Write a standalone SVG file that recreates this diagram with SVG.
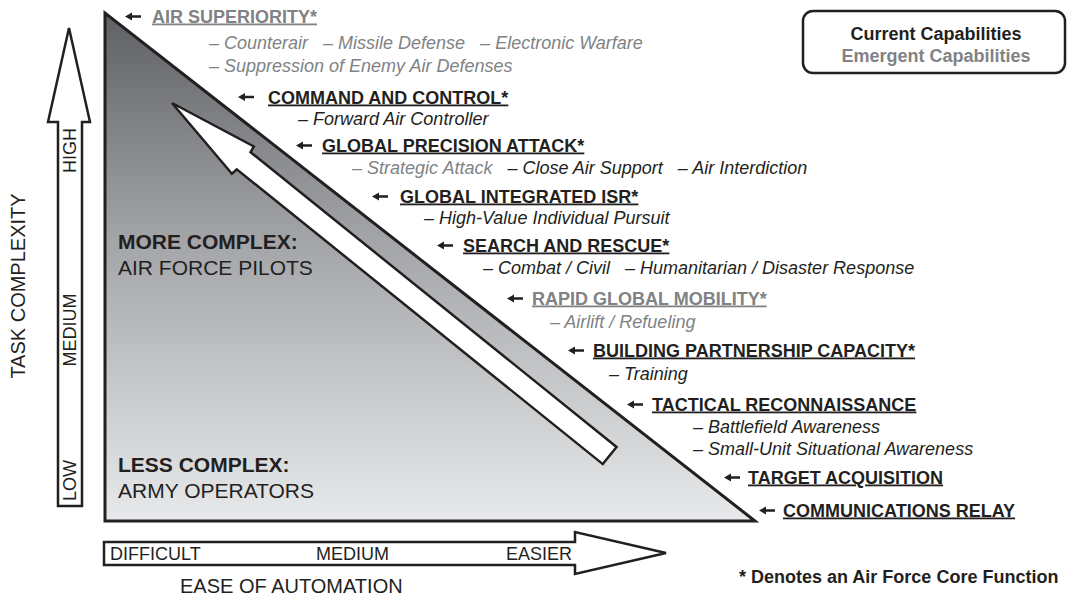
<svg xmlns="http://www.w3.org/2000/svg" width="1069" height="599" viewBox="0 0 1069 599">
<defs>
<linearGradient id="tg" x1="0" y1="0" x2="0" y2="1">
<stop offset="0" stop-color="#5f6063"/>
<stop offset="0.45" stop-color="#a3a5a8"/>
<stop offset="1" stop-color="#e8e9ea"/>
</linearGradient>
<path id="la" d="M0,0 L7,-4 L7,-1.3 L16,-1.3 L16,1.3 L7,1.3 L7,4 Z"/>
<style>
text{font-family:"Liberation Sans",Arial,Helvetica,sans-serif;fill:#231f20}
.h{font-size:18px;font-weight:bold;text-decoration:underline}
.s{font-size:18px;font-style:italic;white-space:pre}
.g{fill:#808285}
.big{font-size:21px}
.ax{font-size:18px}
.ttl{font-size:20px}
.sh{fill:#fff;stroke:#231f20;stroke-width:2.5;stroke-linejoin:miter}
</style>
</defs>
<rect width="1069" height="599" fill="#fff"/>

<g id="triangle">
<polygon points="105,13 105,521 755,521" fill="url(#tg)" stroke="#231f20" stroke-width="3" stroke-linejoin="miter"/>
</g>

<g id="connectors">
<polygon class="sh" transform="translate(172,103) rotate(38.85)" points="0,0 91,-17.5 92,-11 562,-11 562,11 92,11 91,17.5"/>
</g>

<g id="zone-more">
<text class="big" x="118" y="249" font-weight="bold">MORE COMPLEX:</text>
<text class="big" x="118" y="275">AIR FORCE PILOTS</text>
</g>
<g id="zone-less">
<text class="big" x="118" y="472" font-weight="bold">LESS COMPLEX:</text>
<text class="big" x="118" y="498">ARMY OPERATORS</text>
</g>

<g id="axis-y">
<polygon class="sh" points="58,506 58,122 48,122 69,28 90,122 82,122 82,506"/>
<text class="ax" transform="translate(76,501) rotate(-90)">LOW</text>
<text class="ax" transform="translate(76,330) rotate(-90)" text-anchor="middle">MEDIUM</text>
<text class="ax" transform="translate(76,128) rotate(-90)" text-anchor="end">HIGH</text>
<text class="ttl" transform="translate(25,286) rotate(-90)" text-anchor="middle">TASK COMPLEXITY</text>
</g>

<g id="axis-x">
<polygon class="sh" points="104,542 575,542 575,532 666,553 575,574 575,565 104,565"/>
<text class="ax" x="110" y="560">DIFFICULT</text>
<text class="ax" x="316" y="560">MEDIUM</text>
<text class="ax" x="506" y="560">EASIER</text>
<text class="ttl" x="180" y="593">EASE OF AUTOMATION</text>
</g>

<g id="legend">
<rect x="803" y="11" width="262" height="62" rx="10" fill="#fff" stroke="#231f20" stroke-width="2.5"/>
<text x="936" y="40" text-anchor="middle" font-size="18" font-weight="bold">Current Capabilities</text>
<text x="936" y="61.5" text-anchor="middle" font-size="18" font-weight="bold" class="g">Emergent Capabilities</text>
</g>

<g id="note">
<text x="739" y="583" font-size="18" font-weight="bold">* Denotes an Air Force Core Function</text>
</g>

<g id="air-superiority">
<use href="#la" x="125" y="16.5" fill="#231f20"/>
<text class="h g" x="152" y="22.5">AIR SUPERIORITY*</text>
<text class="s g" x="209" y="49">– Counterair   – Missile Defense   – Electronic Warfare</text>
<text class="s g" x="209" y="71.5">– Suppression of Enemy Air Defenses</text>
</g>
<g id="command-control">
<use href="#la" x="238" y="97" fill="#231f20"/>
<text class="h" x="268" y="103.5">COMMAND AND CONTROL*</text>
<text class="s" x="298" y="125">– Forward Air Controller</text>
</g>
<g id="global-precision-attack">
<use href="#la" x="296" y="145.5" fill="#231f20"/>
<text class="h" x="322" y="151.5">GLOBAL PRECISION ATTACK*</text>
<text class="s" x="352" y="173.5"><tspan class="g">– Strategic Attack</tspan>   – Close Air Support   – Air Interdiction</text>
</g>
<g id="global-integrated-isr">
<use href="#la" x="372" y="196.5" fill="#231f20"/>
<text class="h" x="400" y="202.5">GLOBAL INTEGRATED ISR*</text>
<text class="s" x="424" y="224">– High-Value Individual Pursuit</text>
</g>
<g id="search-rescue">
<use href="#la" x="437" y="245.5" fill="#231f20"/>
<text class="h" x="463" y="251.5">SEARCH AND RESCUE*</text>
<text class="s" x="483" y="273.5">– Combat / Civil   – Humanitarian / Disaster Response</text>
</g>
<g id="rapid-global-mobility">
<use href="#la" x="507" y="298.5" fill="#231f20"/>
<text class="h g" x="532" y="304.5">RAPID GLOBAL MOBILITY*</text>
<text class="s g" x="550" y="328">– Airlift / Refueling</text>
</g>
<g id="building-partnership">
<use href="#la" x="568" y="350.5" fill="#231f20"/>
<text class="h" x="593" y="356.5">BUILDING PARTNERSHIP CAPACITY*</text>
<text class="s" x="609" y="380">– Training</text>
</g>
<g id="tactical-recon">
<use href="#la" x="627" y="404.5" fill="#231f20"/>
<text class="h" x="652" y="410.5">TACTICAL RECONNAISSANCE</text>
<text class="s" x="693" y="432.5">– Battlefield Awareness</text>
<text class="s" x="693" y="454.5">– Small-Unit Situational Awareness</text>
</g>
<g id="target-acquisition">
<use href="#la" x="724" y="477.5" fill="#231f20"/>
<text class="h" x="748" y="483.5">TARGET ACQUISITION</text>
</g>
<g id="communications-relay">
<use href="#la" x="759" y="510.5" fill="#231f20"/>
<text class="h" x="783" y="516.5">COMMUNICATIONS RELAY</text>
</g>
</svg>
